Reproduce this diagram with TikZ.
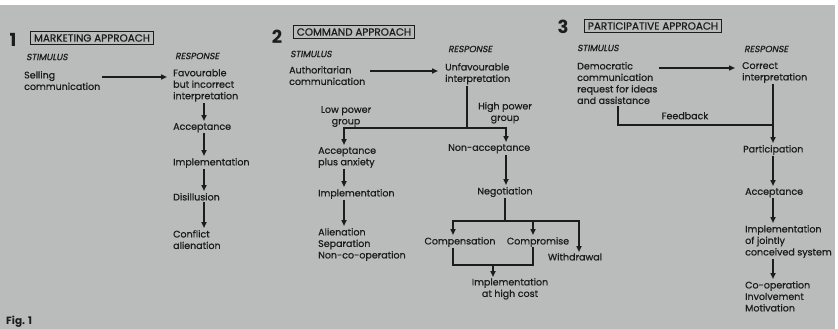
\documentclass[tikz,border=0pt]{standalone}
\usepackage{fontspec}
\setmainfont{Poppins}[UprightFeatures={FakeBold=0.7}]
\newfontfamily\slfont{Poppins}[FakeSlant=0.2, FakeBold=0.7]
\usetikzlibrary{arrows.meta}
\definecolor{ink}{RGB}{28,28,28}
\definecolor{paper}{RGB}{186,187,187}
\tikzset{
	txt/.style={anchor=north west, inner sep=0pt, align=left, text=ink, font=\fontsize{9.5}{11.5}\selectfont},
	ctxt/.style={txt, anchor=north, align=center},
	head/.style={draw=ink, line width=1pt, inner xsep=3pt, inner ysep=2.6pt, text=ink, font=\fontsize{10.4}{11}\selectfont},
	num/.style={inner sep=0pt, text=ink, font=\fontsize{18}{18}\selectfont\bfseries},
	lab/.style={anchor=west, inner sep=0pt, text=ink, font=\slfont\fontsize{9}{10}\selectfont},
	arr/.style={-{Triangle[length=6pt,width=5pt]}, line width=1.5pt, draw=ink},
	ln/.style={line width=1.5pt, draw=ink},
}
\begin{document}
\begin{tikzpicture}[x=1pt, y=-1pt]
	\useasboundingbox (0,0) rectangle (838,329);
	\fill[white] (0,0) rectangle (838,329);
	\fill[paper] (0,5) rectangle (835,329);
	% 1 marketing approach
	\node (n1)    at (13,40)  [num] {1};
	\node (h1)    at (92,38)  [head] {MARKETING APPROACH};
	\node (s1)    at (26,57)  [lab] {STIMULUS};
	\node (r1)    at (175,56) [lab] {RESPONSE};
	\node (sell)  at (24,71)  [txt] {Selling\\communication};
	\node (fav)   at (173,69) [txt] {Favourable\\but incorrect\\interpretation};
	\node (acc1)  at (173,123) [txt] {Acceptance};
	\node (imp1)  at (173,158) [txt] {Implementation};
	\node (dis)   at (173,193) [txt] {Disillusion};
	\node (con)   at (173,230) [txt] {Conflict\\alienation};
	\coordinate (c1) at (204,0);
	\coordinate (row1) at (0,77);
	\draw[arr, shorten <=2pt, shorten >=6pt] (sell.east |- row1) -- (fav.west |- row1);
	\draw[arr, shorten <=1pt, shorten >=2pt] (fav.south -| c1) -- (acc1.north -| c1);
	\draw[arr, shorten <=1pt, shorten >=2pt] (acc1.south -| c1) -- (imp1.north -| c1);
	\draw[arr, shorten <=1pt, shorten >=2pt] (imp1.south -| c1) -- (dis.north -| c1);
	\draw[arr, shorten <=1pt, shorten >=2pt] (dis.south -| c1) -- (con.north -| c1);
	% 2 command approach
	\node (n2)     at (277,37)  [num] {2};
	\node (h2)     at (354,32)  [head] {COMMAND APPROACH};
	\node (s2)     at (290,54)  [lab] {STIMULUS};
	\node (r2)     at (448,49)  [lab] {RESPONSE};
	\node (auth)   at (289,66)  [txt] {Authoritarian\\communication};
	\node (unf)    at (445,63)  [txt] {Unfavourable\\interpretation};
	\node (low)    at (346,106) [ctxt] {Low power\\group};
	\node (high)   at (505,102) [ctxt] {High power\\group};
	\node (accanx) at (318,147) [txt] {Acceptance\\plus anxiety};
	\node (nonacc) at (448,144) [txt] {Non-acceptance};
	\node (imp2)   at (318,189) [txt] {Implementation};
	\node (alien)  at (318,228) [txt] {Alienation\\Separation\\Non-co-operation};
	\node (neg)    at (505,187) [ctxt] {Negotiation};
	\node (comp)   at (460,237) [ctxt] {Compensation};
	\node (compr)  at (538,237) [ctxt] {Compromise};
	\node (withd)  at (575,253) [ctxt] {Withdrawal};
	\node (imphc)  at (510,278) [ctxt] {Implementation\\at high cost};
	\coordinate (c2) at (344,0);
	\coordinate (c3) at (506,0);
	\coordinate (c4) at (453,0);
	\coordinate (c5) at (533,0);
	\coordinate (c6) at (579,0);
	\coordinate (row2) at (0,71);
	\coordinate (sp2) at (467,128);
	\coordinate (sp3) at (505,221);
	\coordinate (mg) at (493,265);
	\draw[arr, shorten <=5pt, shorten >=7pt] (auth.east |- row2) -- (unf.west |- row2);
	\draw[ln, shorten <=1pt] (unf.south -| sp2) -- (sp2);
	\draw[arr, shorten >=2pt] (sp2) -| (accanx.north -| c2);
	\draw[arr, shorten >=2pt] (sp2) -| (nonacc.north -| c3);
	\draw[arr, shorten <=1pt, shorten >=2pt] (accanx.south -| c2) -- (imp2.north -| c2);
	\draw[arr, shorten <=1pt, shorten >=2pt] (imp2.south -| c2) -- (alien.north -| c2);
	\draw[arr, shorten <=1pt, shorten >=2pt] (nonacc.south -| c3) -- (neg.north -| c3);
	\draw[ln, shorten <=1pt] (neg.south) -- (sp3);
	\draw[arr, shorten >=2pt] (sp3) -| (comp.north -| c4);
	\draw[arr, shorten >=1pt] (sp3) -| (withd.north -| c6);
	\draw[arr, shorten >=2pt] (sp3 -| c5) -- (compr.north -| c5);
	\draw[ln, shorten <=1pt] (comp.south -| c4) -- (c4 |- mg) -- (c5 |- mg) -- (compr.south -| c5);
	\draw[arr, shorten >=1pt] (mg) -- (imphc.north -| mg);
	% 3 participative approach
	\node (n3)   at (563,27)  [num] {3};
	\node (h3)   at (653,26)  [head] {PARTICIPATIVE APPROACH};
	\node (s3)   at (577,48)  [lab] {STIMULUS};
	\node (r3)   at (744,49)  [lab] {RESPONSE};
	\node (demo) at (577,62)  [txt] {Democratic\\communication\\request for ideas\\and assistance};
	\node (corr) at (742,62)  [txt] {Correct\\interpretation};
	\node (fb)   at (685,112) [ctxt] {Feedback};
	\node (part) at (743,145) [txt] {Participation};
	\node (acc3) at (745,188) [txt] {Acceptance};
	\node (imp3) at (745,225) [txt] {Implementation\\of jointly\\conceived system};
	\node (coop) at (745,281) [txt] {Co-operation\\Involvement\\Motivation};
	\coordinate (c7) at (773,0);
	\coordinate (row3) at (0,68);
	\coordinate (fbc) at (618,125);
	\draw[arr, shorten <=1pt, shorten >=7pt] (demo.east |- row3) -- (corr.west |- row3);
	\draw[arr, shorten <=1pt, shorten >=2pt] (corr.south -| c7) -- (part.north -| c7);
	\draw[ln, shorten <=2pt] (demo.south -| fbc) |- (c7 |- fbc);
	\draw[arr, shorten <=1pt, shorten >=2pt] (part.south -| c7) -- (acc3.north -| c7);
	\draw[arr, shorten <=1pt, shorten >=2pt] (acc3.south -| c7) -- (imp3.north -| c7);
	\draw[arr, shorten <=1pt, shorten >=2pt] (imp3.south -| c7) -- (coop.north -| c7);
	% caption
	\node (fig) at (6,322) [anchor=west, inner sep=0pt, text=ink, font=\fontsize{10.5}{12}\selectfont\bfseries] {Fig. 1};
\end{tikzpicture}
\end{document}
